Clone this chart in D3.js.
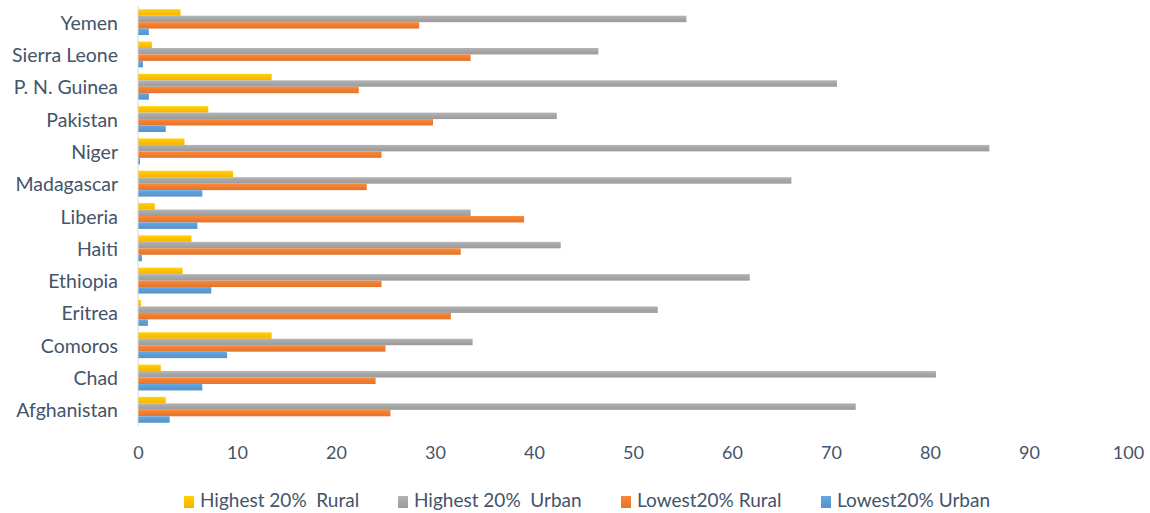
<!DOCTYPE html>
<html>
<head>
<meta charset="utf-8">
<script src="https://cdn.jsdelivr.net/npm/d3@7"></script>
<style>
  html, body { margin: 0; padding: 0; background: #fff; }
  svg { display: block; }
  text { font-family: Lato, "Open Sans", sans-serif; fill: #44546a; }
</style>
</head>
<body>
<svg id="chart" width="1150" height="513"></svg>
<script>
// Countries, listed top to bottom
const categories = ["Yemen", "Sierra Leone", "P. N. Guinea", "Pakistan", "Niger", "Madagascar",
  "Liberia", "Haiti", "Ethiopia", "Eritrea", "Comoros", "Chad", "Afghanistan"];

// Series values (%)
const highestRural = [4.3, 1.4, 13.5, 7.1, 4.7, 9.6, 1.7, 5.4, 4.5, 0.3, 13.5, 2.3, 2.8];
const highestUrban = [55.4, 46.5, 70.6, 42.3, 86.0, 66.0, 33.6, 42.7, 61.8, 52.5, 33.8, 80.6, 72.5];
const lowestRural  = [28.4, 33.6, 22.3, 29.8, 24.6, 23.1, 39.0, 32.6, 24.6, 31.6, 25.0, 24.0, 25.5];
const lowestUrban  = [1.1, 0.5, 1.1, 2.8, 0.2, 6.5, 6.0, 0.4, 7.4, 1.0, 9.0, 6.5, 3.2];

const seriesNames = ["Highest 20%  Rural", "Highest 20%  Urban", "Lowest20% Rural", "Lowest20% Urban"];
const tickValues = [0, 10, 20, 30, 40, 50, 60, 70, 80, 90, 100];

const seriesValues = [highestRural, highestUrban, lowestRural, lowestUrban];
const colors = ["#FFC000", "#A5A5A5", "#ED7D31", "#5B9BD5"];

const svg = d3.select("#chart");
const plotLeft = 138, plotRight = 1128, plotTop = 6, plotBottom = 426;

const x = d3.scaleLinear().domain([0, 100]).range([plotLeft, plotRight]);
const y = d3.scaleBand().domain(categories).range([plotTop, plotBottom]).paddingInner(0.2).paddingOuter(0.1);
const ySub = d3.scaleBand().domain(seriesNames).range([0, y.bandwidth()]);

// Subtle vertical shading on bars
const defs = svg.append("defs");
colors.forEach((c, i) => {
  const g = defs.append("linearGradient").attr("id", "grad" + i)
    .attr("x1", 0).attr("y1", 0).attr("x2", 0).attr("y2", 1);
  const col = d3.color(c);
  g.append("stop").attr("offset", "0%").attr("stop-color", col.brighter(0.25));
  g.append("stop").attr("offset", "50%").attr("stop-color", col);
  g.append("stop").attr("offset", "100%").attr("stop-color", col.darker(0.15));
});

// Bars
const groups = svg.append("g").selectAll("g")
  .data(categories)
  .join("g")
  .attr("transform", d => `translate(0,${y(d)})`);

groups.selectAll("rect")
  .data((d, i) => seriesNames.map((s, k) => ({ s, k, v: seriesValues[k][i] })))
  .join("rect")
  .attr("x", x(0))
  .attr("y", d => ySub(d.s))
  .attr("width", d => x(d.v) - x(0))
  .attr("height", ySub.bandwidth())
  .attr("fill", d => `url(#grad${d.k})`);

// Vertical axis line
svg.append("line")
  .attr("x1", x(0)).attr("x2", x(0))
  .attr("y1", plotTop).attr("y2", plotBottom)
  .attr("stroke", "#d9d9d9").attr("stroke-width", 1);

// Category labels
svg.append("g").selectAll("text")
  .data(categories)
  .join("text")
  .attr("x", 118)
  .attr("y", d => y(d) + y.bandwidth() / 2)
  .attr("text-anchor", "end")
  .attr("dominant-baseline", "central")
  .attr("font-size", 19.5)
  .text(d => d);

// Value axis labels
const xAxis = d3.axisBottom(x).tickValues(tickValues).tickSize(0).tickPadding(0);
const ax = svg.append("g").attr("transform", `translate(0,${plotBottom})`).call(xAxis);
ax.select(".domain").remove();
ax.selectAll("text")
  .attr("y", 27)
  .attr("dy", "0.35em")
  .attr("font-size", 18)
  .style("font-family", "Lato, 'Open Sans', sans-serif")
  .attr("fill", "#44546a");

// Legend
const legendX = [184, 398, 621, 821];
const legend = svg.append("g").selectAll("g")
  .data(seriesNames)
  .join("g")
  .attr("transform", (d, i) => `translate(${legendX[i]},499)`);
legend.append("rect")
  .attr("x", 0).attr("y", -3)
  .attr("width", 10).attr("height", 12)
  .attr("fill", (d, i) => `url(#grad${i})`);
legend.append("text")
  .attr("x", 16)
  .attr("dominant-baseline", "central")
  .attr("font-size", 19)
  .style("white-space", "pre")
  .text(d => d);
</script>
</body>
</html>
